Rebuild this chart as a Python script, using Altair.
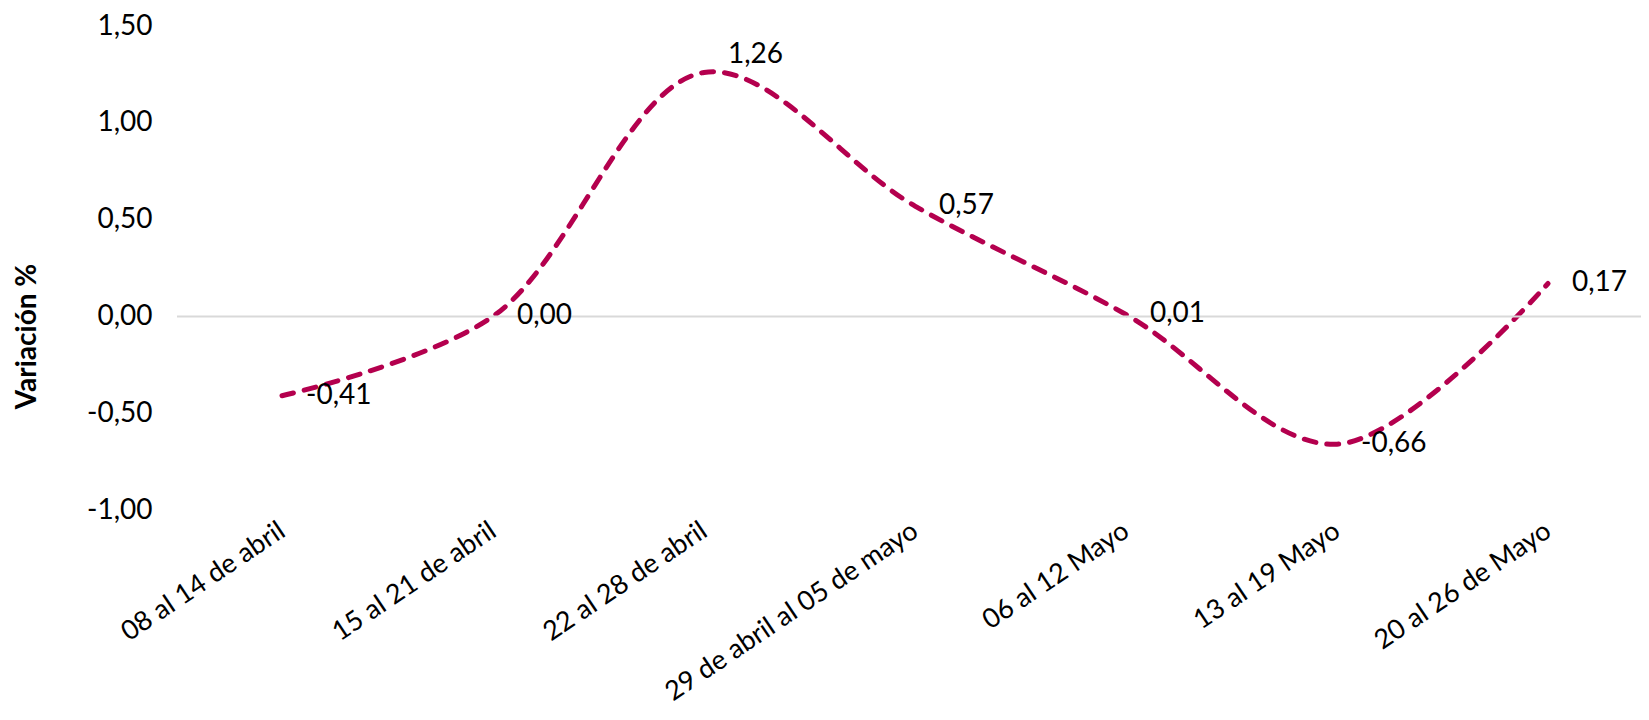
import altair as alt
import pandas as pd

categorias = [
    "08 al 14 de abril",
    "15 al 21 de abril",
    "22 al 28 de abril",
    "29 de abril al 05 de mayo",
    "06 al 12 Mayo",
    "13 al 19 Mayo",
    "20 al 26 de Mayo",
]
valores = [-0.41, 0.00, 1.26, 0.57, 0.01, -0.66, 0.17]
y_ticks = [-1.0, -0.5, 0.0, 0.5, 1.0, 1.5]

df = pd.DataFrame({"Semana": categorias, "Valor": valores})
zero_df = pd.DataFrame({"cero": [0.0]})

FONT = "Lato"
FS = 28
COLOR = "#B4004E"

x_scale = alt.Scale(type="point", range=[105, 1371], padding=0)
y_scale = alt.Scale(domain=[-1.0, 1.5], nice=False, zero=False)

x_enc = alt.X(
    "Semana:N",
    sort=categorias,
    scale=x_scale,
    axis=alt.Axis(
        title=None,
        labelAngle=-34,
        labelAlign="right",
        labelBaseline="middle",
        labelPadding=18,
        labelFont=FONT,
        labelFontSize=27,
        labelColor="#000000",
        labelLimit=600,
        ticks=False,
        domain=False,
        grid=False,
    ),
)
y_enc = alt.Y(
    "Valor:Q",
    scale=y_scale,
    axis=alt.Axis(
        values=y_ticks,
        format=".2f",
        ticks=False,
        domain=False,
        grid=False,
        labelPadding=25,
        labelFont=FONT,
        labelFontSize=FS,
        labelColor="#000000",
        title="Variación %",
        titleFont=FONT,
        titleFontSize=FS,
        titleFontWeight="bold",
        titleColor="#000000",
        titleAngle=270,
        titleAlign="center",
        titleBaseline="middle",
        titleX=-150,
        titleY=310,
    ),
)

rule = alt.Chart(zero_df).mark_rule(color="#D9D9D9", strokeWidth=2).encode(
    y=alt.Y("cero:Q", scale=y_scale)
)

line = alt.Chart(df).mark_line(
    interpolate="catmull-rom",
    strokeDash=[12, 11],
    strokeCap="round",
    strokeWidth=5,
    color=COLOR,
).encode(x=x_enc, y=y_enc)

text_base = alt.Chart(df).encode(
    x=alt.X("Semana:N", sort=categorias),
    y=alt.Y("Valor:Q"),
    text=alt.Text("Valor:Q", format=".2f"),
)
labels = text_base.mark_text(
    align="left", baseline="middle", dx=24, font=FONT, fontSize=FS, color="#000000"
).transform_filter("datum.Valor <= 1")
labels_peak = text_base.mark_text(
    align="left", baseline="middle", dx=24, dy=-17, font=FONT, fontSize=FS, color="#000000"
).transform_filter("datum.Valor > 1")

chart = (
    alt.layer(line, rule, labels, labels_peak)
    .properties(
        width=1464,
        height=484,
        background="#FFFFFF",
        autosize=alt.AutoSizeParams(type="none"),
        padding={"left": 169, "top": 18, "right": 0, "bottom": 198},
    )
    .configure_axis(domain=False, grid=False, ticks=False)
    .configure_view(stroke=None, strokeWidth=0)
)

chart.save(
    "out.html",
    embed_options={
        "renderer": "svg",
        "actions": False,
        "formatLocale": {
            "decimal": ",",
            "thousands": ".",
            "grouping": [3],
            "currency": ["", "\u00a0€"],
            "minus": "-",
        },
    },
)
